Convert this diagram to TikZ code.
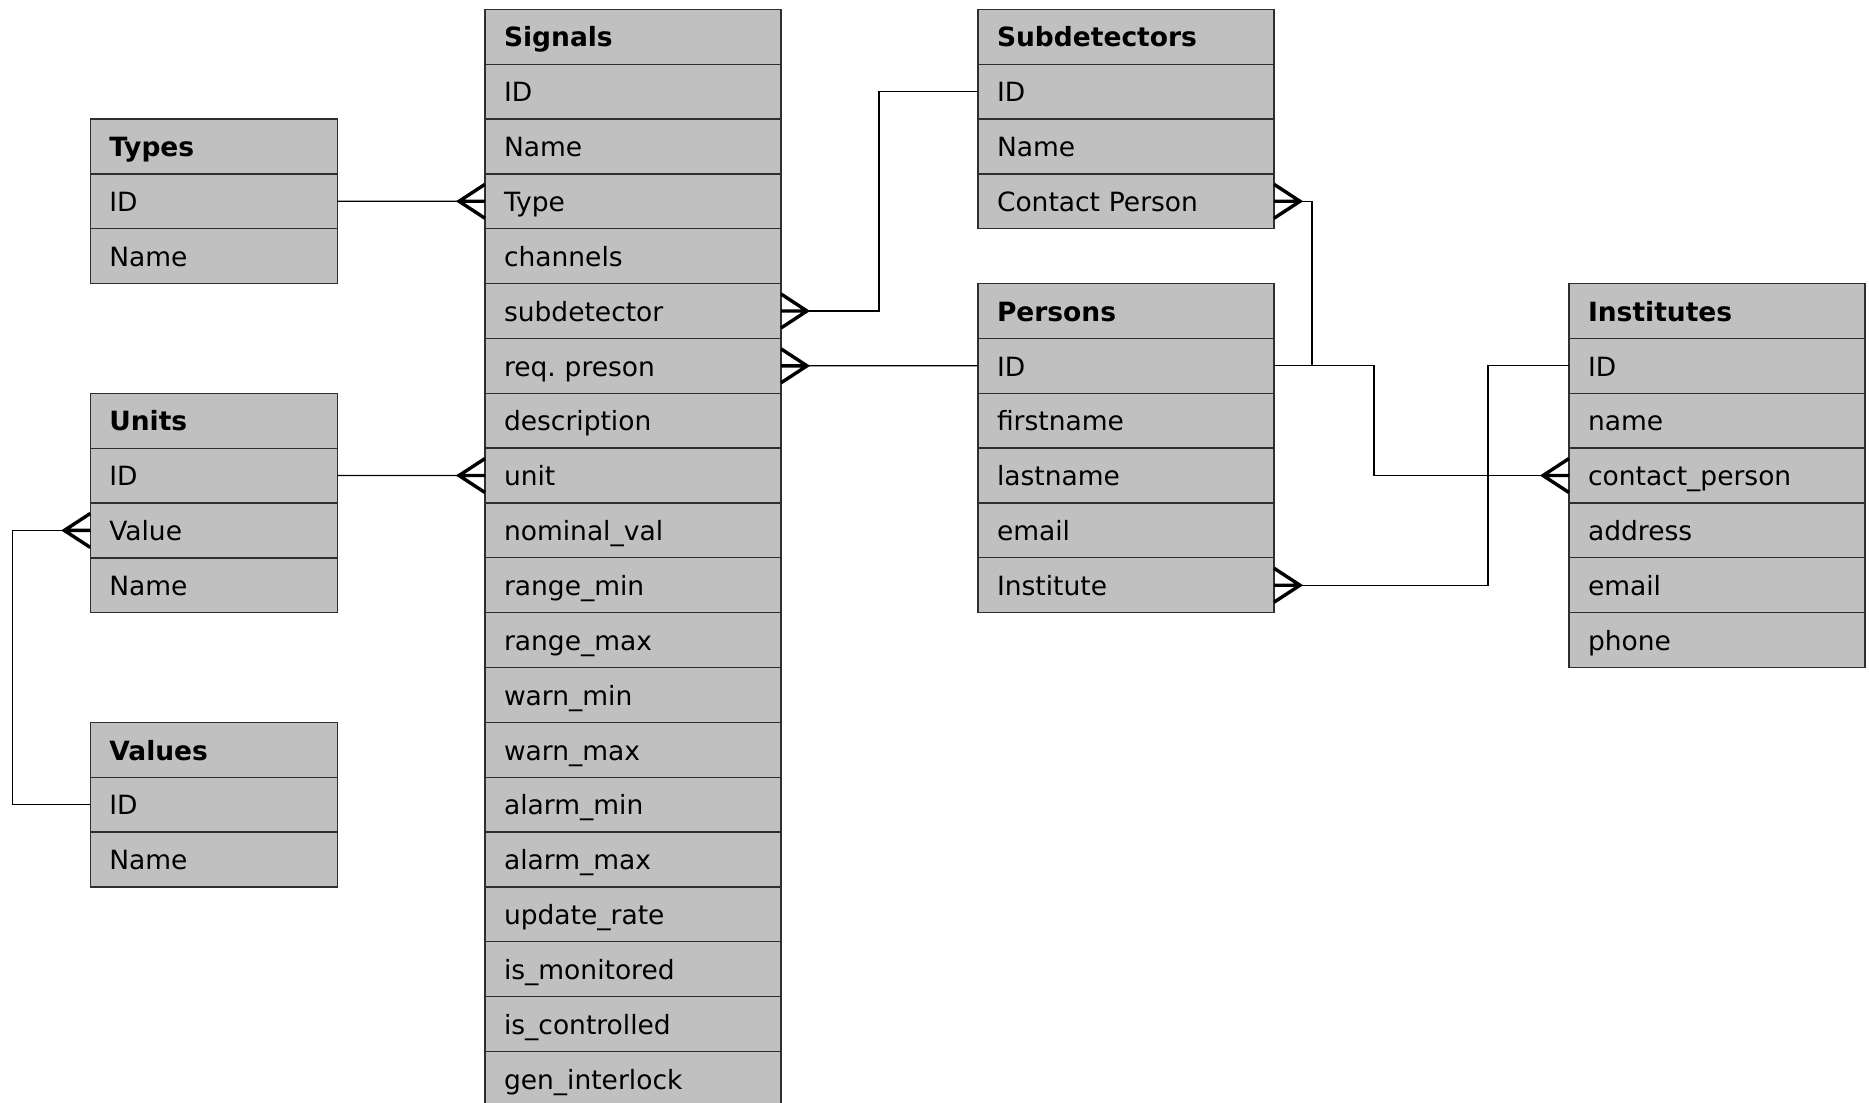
\documentclass[tikz,border=0pt]{standalone}
\usepackage{fontspec}
\setmainfont{DejaVu Sans}
\frenchspacing
\definecolor{cellgray}{HTML}{C0C0C0}
\definecolor{edgegray}{HTML}{2E2E2E}
\tikzset{
  cell/.style={draw=edgegray, line width=1.3pt, fill=cellgray, anchor=north west,
    minimum height=54.85pt, inner xsep=19pt, inner ysep=0pt, outer sep=0pt,
    align=left, text height=20.5pt, text depth=0pt,
    font=\fontsize{26.5}{32}\selectfont},
  head/.style={cell, font=\fontsize{26.5}{32}\selectfont\bfseries},
  link/.style={draw=black, line width=1.3pt},
  crowfoot/.pic={\draw[line width=3.4pt] (0,17) -- (-26,0) -- (0,-17) (-26,0) -- (0,0);}
}
% #1 name, #2 x, #3 y, #4 text width, #5 header, #6 fields
\newcommand\erTable[6]{%
  \node[head, text width=#4] (#1-0) at (#2,#3) {#5};
  \foreach \t [count=\i] in {#6} {
    \node[cell, text width=#4] (#1-\i) at (#2,{#3+\i*54.85}) {\t};
  }
}
\begin{document}
\begin{tikzpicture}[x=1pt,y=-1pt]
\useasboundingbox (0,0) rectangle (1869,1103);
\clip (0,0) rectangle (1869,1103);

\erTable{sig}{485}{9.3}{258pt}{Signals}{ID,Name,Type,channels,subdetector,req. preson,description,unit,nominal\_val,range\_min,range\_max,warn\_min,warn\_max,alarm\_min,alarm\_max,update\_rate,is\_monitored,is\_controlled,gen\_interlock}
\erTable{types}{90.3}{119}{209pt}{Types}{ID,Name}
\erTable{units}{90.3}{393.3}{209pt}{Units}{ID,Value,Name}
\erTable{values}{90.3}{722.4}{209pt}{Values}{ID,Name}
\erTable{sub}{978}{9.3}{258pt}{Subdetectors}{ID,Name,Contact Person}
\erTable{per}{978}{283.55}{258pt}{Persons}{ID,firstname,lastname,email,Institute}
\erTable{inst}{1569}{283.55}{258pt}{Institutes}{ID,name,contact\_person,address,email,phone}

\draw[link] (types-1.east) -- (sig-3.west);
\pic at (sig-3.west) {crowfoot};
\draw[link] (units-1.east) -- (sig-8.west);
\pic at (sig-8.west) {crowfoot};
\draw[link] (units-2.west) -- ++(-78,0) |- (values-1.west);
\pic at (units-2.west) {crowfoot};
\draw[link] (sub-1.west) -- ++(-99,0) |- (sig-5.east);
\pic[xscale=-1] at (sig-5.east) {crowfoot};
\draw[link] (per-1.west) -- (sig-6.east);
\pic[xscale=-1] at (sig-6.east) {crowfoot};
\draw[link] (sub-3.east) -- ++(38,0) |- (per-1.east);
\pic[xscale=-1] at (sub-3.east) {crowfoot};
\draw[link] (per-1.east) -- ++(100,0) |- (inst-3.west);
\pic at (inst-3.west) {crowfoot};
\draw[link] (inst-1.west) -- ++(-81,0) |- (per-5.east);
\pic[xscale=-1] at (per-5.east) {crowfoot};
\end{tikzpicture}
\end{document}
